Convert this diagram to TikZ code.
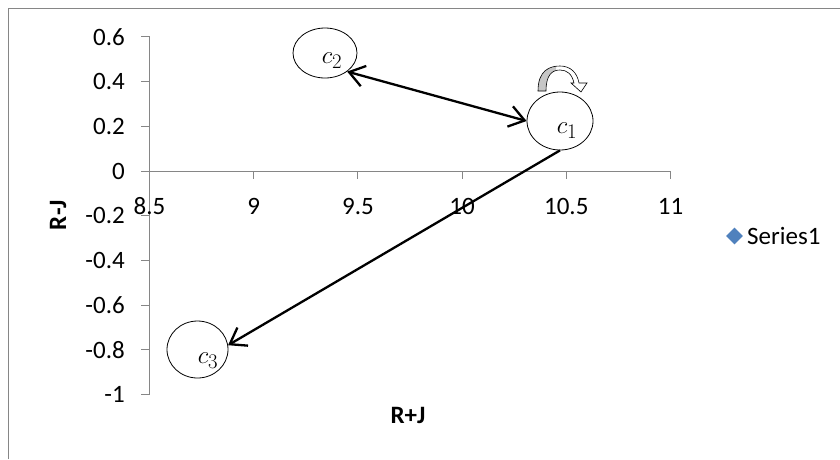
\documentclass[tikz,border=0pt]{standalone}
\usepackage{fontspec}
\setmainfont{Carlito}
\usepackage{tikz}
\usetikzlibrary{arrows.meta,shapes.geometric}
\definecolor{axisgray}{HTML}{868686}
\definecolor{serblue}{HTML}{4F81BD}

\begin{document}
\begin{tikzpicture}[x=1pt,y=-1pt,font=\fontsize{25}{30}\selectfont,
  axisline/.style={axisgray,line width=1pt},
  ticklbl/.style={inner sep=0pt},
  cnode/.style={draw,ellipse,line width=0.8pt,inner sep=0pt},
  clbl/.style={inner sep=0pt,font=\fontsize{30}{34}\selectfont},
  >={Straight Barb[length=15pt,width=21pt]},
  link/.style={line width=2.3pt}]
\useasboundingbox[fill=white] (0,0) rectangle (840,459);
\draw[axisgray,line width=1.3pt] (8.5,459) -- (8.5,8.5) -- (840,8.5);
% axes in data units
\begin{scope}[shift={(-1621.9,171)},x=208.4pt,y=223.5pt]
  \draw[axisline] (8.5,0.6) -- (8.5,-1);
  \draw[axisline] (8.5,0) -- (11,0);
  \foreach \v in {0.6,0.4,0.2,0,-0.2,-0.4,-0.6,-0.8,-1}{
    \draw[axisline] (8.5,\v) -- ++(-8.5pt,0);
    \node[ticklbl,anchor=east,xshift=-24.5pt] at (8.5,\v) {\v};}
  \foreach \v in {8.5,9,9.5,10,10.5,11}{
    \draw[axisline] (\v,0) -- ++(0,-7.5pt);
    \node[ticklbl,yshift=-35pt] at (\v,0) {\v};}
\end{scope}
\node[ticklbl,font=\fontsize{25}{30}\selectfont\bfseries,rotate=90] (ylab) at (58,215) {R-J};
\node[ticklbl,font=\fontsize{25}{30}\selectfont\bfseries] (xlab) at (408,415) {R+J};
% legend
\node[diamond,fill=serblue,inner sep=0pt,minimum size=17pt] (mark) at (734.5,236) {};
\node[ticklbl,anchor=west] (series) at (747,236) {Series1};
% clusters
\node[cnode,minimum width=66pt,minimum height=58pt] (c1) at (560,121) {};
\node[cnode,minimum width=64pt,minimum height=50pt] (c2) at (325,53) {};
\node[cnode,minimum width=61pt,minimum height=57pt] (c3) at (197.5,349.5) {};
\node[clbl] (t1) at (567,131) {$c_1$};
\node[clbl] (t2) at (332,61) {$c_2$};
\node[clbl] (t3) at (208,361) {$c_3$};
\draw[link,<->] (c2.-40) -- (c1.west);
\draw[link,->] (c1.south) -- (c3.8);
% self loop on c1
\begin{scope}
  \clip (530,55) rectangle (556,95);
  \fill[gray!45] (538,91) .. controls (538,70) and (550,66) .. (560,66)
    -- (560,70) .. controls (552,70) and (546,75) .. (546,91) -- cycle;
\end{scope}
\draw[line width=0.6pt] (538,91) .. controls (538,70) and (550,66) .. (560,66)
  .. controls (570,66) and (577,72) .. (579,83) -- (587,83) -- (581,92) -- (571,83)
  -- (574,83) .. controls (572,74) and (567,70) .. (560,70)
  .. controls (552,70) and (546,75) .. (546,91) -- cycle;
\end{tikzpicture}
\end{document}
